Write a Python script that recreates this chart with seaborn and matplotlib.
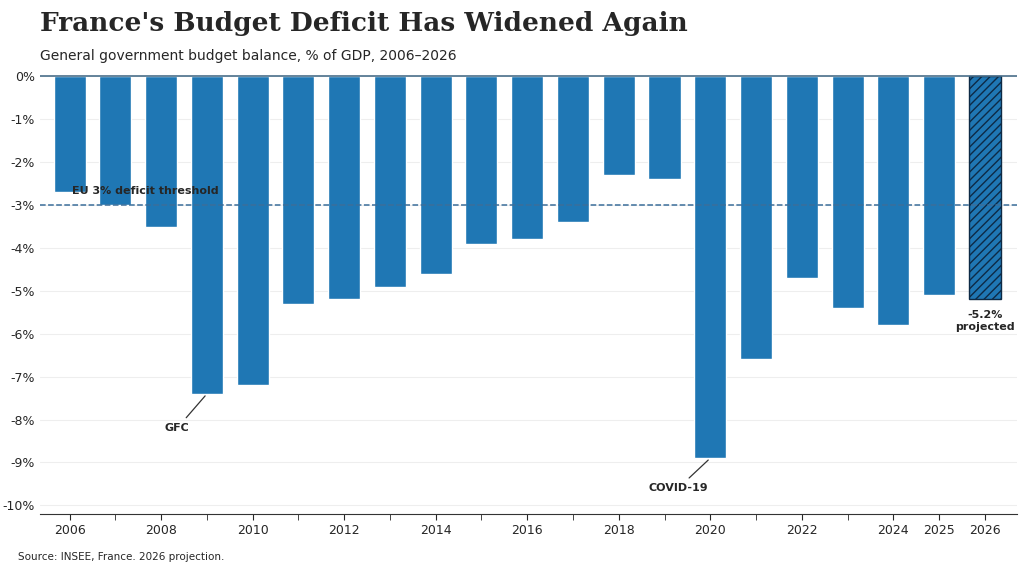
import matplotlib.pyplot as plt
import seaborn as sns
import pandas as pd

years = list(range(2006, 2027))
balance = [-2.7, -3.0, -3.5, -7.4, -7.2, -5.3, -5.2, -4.9, -4.6, -3.9, -3.8,
           -3.4, -2.3, -2.4, -8.9, -6.6, -4.7, -5.4, -5.8, -5.1, -5.2]
tick_years = [2006, 2008, 2010, 2012, 2014, 2016, 2018, 2020, 2022, 2024, 2025, 2026]
threshold = -3.0

df = pd.DataFrame({"year": years, "balance": balance})
blue = "#1f77b4"

sns.set_style("white")
fig = plt.figure(figsize=(10.24, 5.71), dpi=100)
ax = fig.add_axes([0.039, 0.10, 0.954, 0.77])

sns.barplot(data=df, x="year", y="balance", color=blue, saturation=1, width=0.7, ax=ax)
# projected year hatched
last = ax.patches[-1]
last.set_hatch("////")
last.set_edgecolor("#0d2a45")
last.set_linewidth(1.0)

ax.set_ylim(-10.2, 0.05)
ax.set_xlim(-0.65, len(years) - 0.3)
ax.set_yticks(range(-10, 1))
ax.set_yticklabels([f"{v}%" for v in range(-10, 1)], fontsize=9)
ax.set_xticks([years.index(y) for y in tick_years])
ax.set_xticklabels([str(y) for y in tick_years], fontsize=9)
ax.set_xticks([years.index(y) for y in years if y not in tick_years], minor=True)
ax.tick_params(axis="x", which="both", direction="out", length=4, bottom=True)
ax.tick_params(axis="y", length=0)
ax.set_xlabel("")
ax.set_ylabel("")
for s in ["left", "right", "top"]:
    ax.spines[s].set_visible(False)
ax.spines["bottom"].set_color("#333333")
ax.yaxis.grid(True, color="#eeeeee", linewidth=0.8)
ax.set_axisbelow(True)

ax.axhline(0, color="#4a6f8a", linewidth=1.2)
ax.axhline(threshold, color="#3b6e9a", linestyle="--", linewidth=1.1)
ax.text(0.05, threshold + 0.2, "EU 3% deficit threshold", fontsize=8, fontweight="bold", va="bottom")

ax.annotate("GFC", xy=(3, -7.4), xytext=(2.35, -8.2), fontsize=8, fontweight="bold",
            ha="center", va="center", arrowprops=dict(arrowstyle="-", color="#333333", lw=0.9))
ax.annotate("COVID-19", xy=(14, -8.9), xytext=(13.3, -9.6), fontsize=8, fontweight="bold",
            ha="center", va="center", arrowprops=dict(arrowstyle="-", color="#333333", lw=0.9))
ax.text(20, -5.45, "-5.2%\nprojected", fontsize=8, fontweight="bold", ha="center", va="top")

fig.text(0.039, 0.945, "France's Budget Deficit Has Widened Again", fontsize=19,
         fontweight="bold", family="DejaVu Serif")
fig.text(0.039, 0.915, "General government budget balance, % of GDP, 2006\u20132026",
         fontsize=10, va="top")
fig.text(0.018, 0.02, "Source: INSEE, France. 2026 projection.", fontsize=7.5)

fig.savefig("out.png", dpi=100)
